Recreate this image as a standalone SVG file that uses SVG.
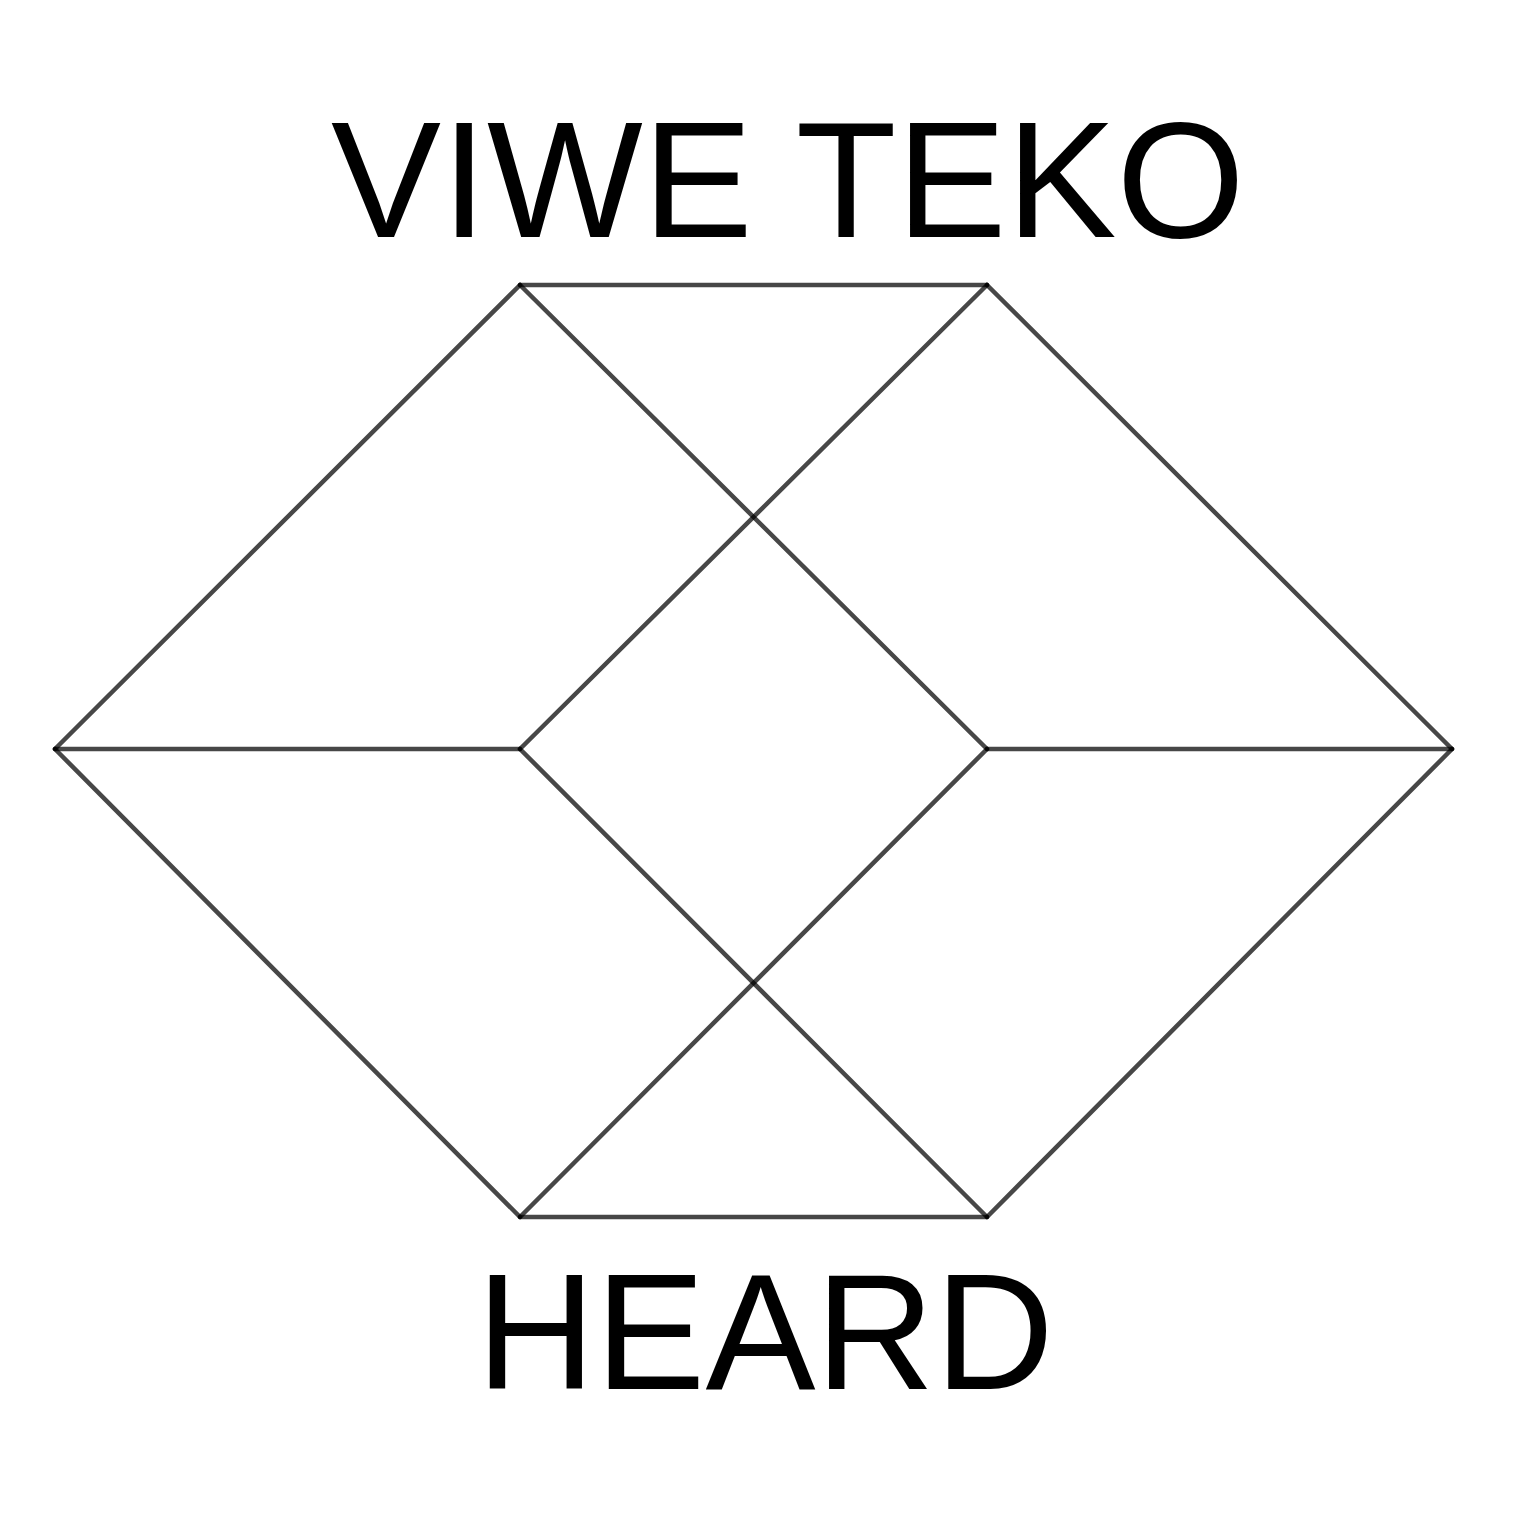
<svg xmlns="http://www.w3.org/2000/svg" width="1518" height="1520" viewBox="0 0 1518 1520">
<style>
.e{stroke:#000;stroke-opacity:0.72;stroke-width:4.5;fill:none;stroke-linecap:round}
.t{font-family:"Liberation Sans",Arial,sans-serif;font-size:165px;fill:#000;text-anchor:middle}
</style>
<rect width="1518" height="1520" fill="#fff"/>
<g id="connectors">
<line class="e" x1="520" y1="285" x2="987" y2="285"/>
<line class="e" x1="520" y1="285" x2="55" y2="749"/>
<line class="e" x1="520" y1="285" x2="987" y2="749"/>
<line class="e" x1="987" y1="285" x2="520" y2="749"/>
<line class="e" x1="987" y1="285" x2="1452" y2="749"/>
<line class="e" x1="55" y1="749" x2="520" y2="749"/>
<line class="e" x1="987" y1="749" x2="1452" y2="749"/>
<line class="e" x1="55" y1="749" x2="520" y2="1217"/>
<line class="e" x1="520" y1="749" x2="987" y2="1217"/>
<line class="e" x1="987" y1="749" x2="520" y2="1217"/>
<line class="e" x1="1452" y1="749" x2="987" y2="1217"/>
<line class="e" x1="520" y1="1217" x2="987" y2="1217"/>
</g>
<g id="title"><text class="t" x="788" y="237">VIWE TEKO</text></g>
<g id="subtitle"><text class="t" x="765" y="1389">HEARD</text></g>
</svg>
